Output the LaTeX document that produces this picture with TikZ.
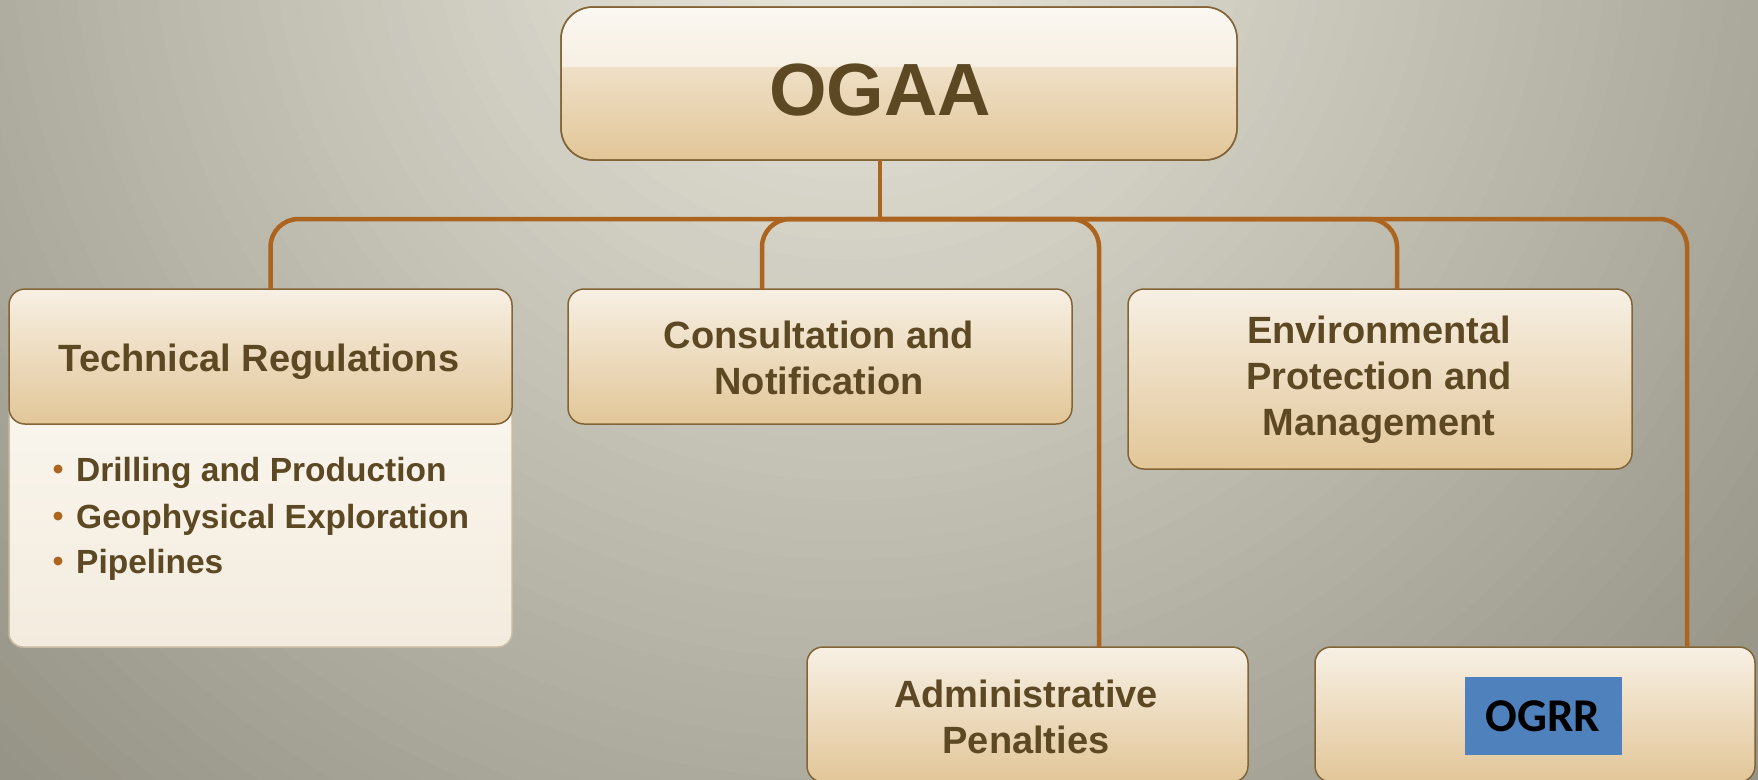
\documentclass[tikz,border=0pt]{standalone}
\usepackage{fontspec}
\setmainfont{Liberation Sans}
\newfontfamily\carlito{Carlito}
\usetikzlibrary{calc}
\definecolor{bgIn}{RGB}{236,234,222}
\definecolor{bgOut}{RGB}{150,148,134}
\definecolor{boxTop}{RGB}{247,240,228}
\definecolor{boxBot}{RGB}{226,198,152}
\definecolor{boxLine}{RGB}{130,100,55}
\definecolor{txt}{RGB}{92,72,34}
\definecolor{connc}{RGB}{172,100,30}
\definecolor{bodyTop}{RGB}{250,246,238}
\definecolor{bodyBot}{RGB}{243,235,222}
\definecolor{bodyLine}{RGB}{200,188,165}
\definecolor{ogrrBlue}{RGB}{79,129,189}
\begin{document}
\begin{tikzpicture}[x=1pt,y=-1pt,
  box/.style={draw=boxLine, line width=1.5pt, rounded corners=16pt, top color=boxTop, bottom color=boxBot, inner sep=0pt, outer sep=0pt},
  bodybox/.style={draw=bodyLine, line width=1.5pt, rounded corners=14pt, top color=bodyTop, bottom color=bodyBot, inner sep=0pt, outer sep=0pt},
  lbl/.style={text=txt, font=\bfseries\fontsize{38}{46}\selectfont, align=center},
  item/.style={text=txt, font=\bfseries\fontsize{33.5}{40}\selectfont, anchor=base west, inner sep=0pt},
  bullet/.style={circle, fill=connc, inner sep=0pt, minimum size=9pt},
  conn/.style={draw=connc, line width=4.5pt, rounded corners=28pt}
]
\useasboundingbox (0,0) rectangle (1758,779);
% background: radial gradient built from concentric discs
\begin{scope}
  \clip (-3,-3) rectangle (1761,782);
  \fill[bgOut] (-3,-3) rectangle (1761,782);
  \foreach \i in {0,...,59} {
    \pgfmathsetmacro\rad{1200-20*\i}
    \pgfmathtruncatemacro\pct{round((20*\i+10)/12)}
    \fill[bgIn!\pct!bgOut] (850,-100) circle (\rad);
  }
\end{scope}

% boxes
\node[box, rounded corners=32pt, minimum width=676pt, minimum height=153pt] (ogaa) at (899,83.5) {};
\begin{scope}
  \clip[rounded corners=32pt] (ogaa.north west) rectangle (ogaa.south east);
  \fill[white, opacity=0.5] (ogaa.north west) rectangle ($(ogaa.north east)+(0,60)$);
\end{scope}
\draw[boxLine, line width=1.5pt, rounded corners=32pt] (ogaa.north west) rectangle (ogaa.south east);
\node[lbl, font=\bfseries\fontsize{74}{80}\selectfont] (ogaatext) at (880,90) {OGAA};

\coordinate (busy) at (0,219);
\coordinate (bus) at (ogaatext |- busy);

\node[bodybox, minimum width=503pt, minimum height=253pt] (techbody) at (260.5,520.5) {};
\node[box, minimum width=503pt, minimum height=135pt] (tech) at (260.5,356.5) {};
\node[box, minimum width=504pt, minimum height=135pt] (consult) at (820,356.5) {};
\node[box, minimum width=504pt, minimum height=180pt] (env) at (1380,379) {};
\node[box, minimum width=441pt, minimum height=135pt] (admin) at (1027.5,714.5) {};
\node[box, minimum width=440pt, minimum height=135pt] (ogrr) at (1535,714.5) {};

% connectors
\draw[conn] (ogaatext |- ogaa.south) -- (bus);
\draw[conn] (bus) -| ([xshift=10pt]tech.north);
\draw[conn] (bus) -| ([xshift=152pt]ogrr.north);
\draw[conn] (bus) -| ([xshift=-58pt]consult.north);
\draw[conn] (bus) -| ([xshift=71.5pt]admin.north);
\draw[conn] (bus) -| ([xshift=17pt]env.north);

% labels
\node[lbl] (techtext) at (259,362) {Technical Regulations};
\node[lbl] (consulttext) at (819,358) {Consultation and\\Notification};
\node[lbl] (envtext) at (1379,380) {Environmental\\Protection and\\Management};
\node[lbl] (admintext) at (1026,716.5) {Administrative\\Penalties};

\node[bullet] (b1) at (58,469) {};
\node[bullet] (b2) at (58,516) {};
\node[bullet] (b3) at (58,561) {};
\node[item] (i1) at (76,481) {Drilling and Production};
\node[item] (i2) at (76,528) {Geophysical Exploration};
\node[item] (i3) at (76,573) {Pipelines};

\node[fill=ogrrBlue, minimum width=157pt, minimum height=78pt, inner sep=0pt, text=black, font=\carlito\bfseries\fontsize{47}{50}\selectfont] (ogrrlbl) at (1543,716) {OGRR};
\end{tikzpicture}
\end{document}
